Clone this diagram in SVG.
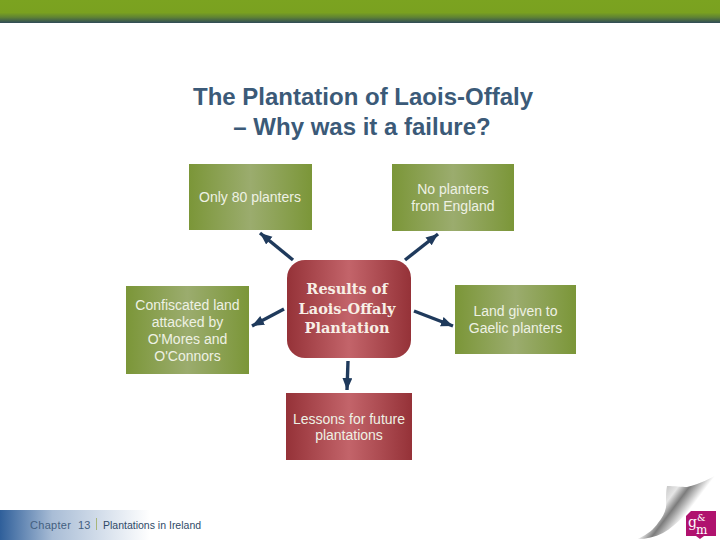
<svg xmlns="http://www.w3.org/2000/svg" width="720" height="540" viewBox="0 0 720 540">
<style>
.g{fill:url(#green)}
.r{fill:url(#red)}
.t{font-family:"Liberation Sans",Arial,sans-serif;font-size:14px;fill:#eef1e4;text-anchor:middle}
.c{stroke:#1f3a5c;stroke-width:3.4;fill:none;marker-end:url(#a)}
.l{font-family:"DejaVu Serif",serif;fill:#fff}
</style>
<defs>
<linearGradient id="bar" x1="0" y1="0" x2="0" y2="1"><stop offset="0" stop-color="#7ba320"/><stop offset=".55" stop-color="#7aa120"/><stop offset=".75" stop-color="#5f8334"/><stop offset="1" stop-color="#2f4a57"/></linearGradient>
<linearGradient id="green"><stop offset="0" stop-color="#7b9638"/><stop offset=".5" stop-color="#9bac6e"/><stop offset="1" stop-color="#7b9638"/></linearGradient>
<linearGradient id="red"><stop offset="0" stop-color="#953238"/><stop offset=".5" stop-color="#c3646a"/><stop offset="1" stop-color="#953238"/></linearGradient>
<linearGradient id="foot"><stop offset="0" stop-color="#2f5f9a"/><stop offset=".35" stop-color="#a9bdd6"/><stop offset="1" stop-color="#fff"/></linearGradient>
<linearGradient id="fold" gradientUnits="userSpaceOnUse" x1="662" y1="490" x2="702" y2="520"><stop offset="0" stop-color="#c4c4c4"/><stop offset=".22" stop-color="#e6e6e6"/><stop offset=".4" stop-color="#7c7c7c"/><stop offset=".52" stop-color="#b4b4b4"/><stop offset=".68" stop-color="#fff"/></linearGradient>
<marker id="a" markerUnits="userSpaceOnUse" markerWidth="14" markerHeight="12" refX="12" refY="5" orient="auto"><path d="M0 0L12 5L0 10Z" fill="#1f3a5c"/></marker>
</defs>
<rect width="720" height="540" fill="#fff"/>
<rect width="720" height="23" fill="url(#bar)"/>
<rect y="510" width="150" height="30" fill="url(#foot)"/>
<g id="title" font-family="Liberation Sans,Arial,sans-serif" font-size="24" font-weight="700" fill="#3b5a78" text-anchor="middle">
<text x="363" y="105">The Plantation of Laois-Offaly</text>
<text x="362" y="135">– Why was it a failure?</text>
</g>
<g id="connectors">
<line class="c" x1="293" y1="260" x2="260" y2="233"/>
<line class="c" x1="405" y1="260" x2="438" y2="234"/>
<line class="c" x1="284" y1="309" x2="252" y2="326"/>
<line class="c" x1="414" y1="311" x2="453" y2="326"/>
<line class="c" x1="348" y1="361" x2="347" y2="390"/>
</g>
<g id="n1"><rect class="g" x="189" y="164" width="123" height="66"/><text class="t" x="250" y="202">Only 80 planters</text></g>
<g id="n2"><rect class="g" x="392" y="164" width="122" height="67"/><text class="t" x="453" y="194">No planters</text><text class="t" x="453" y="211">from England</text></g>
<g id="n3"><rect class="g" x="126" y="286" width="123" height="88"/><text class="t" x="187.500" y="310">Confiscated land</text><text class="t" x="187.500" y="327">attacked by</text><text class="t" x="187.500" y="344">O'Mores and</text><text class="t" x="187.500" y="361">O'Connors</text></g>
<g id="center"><rect class="r" x="287" y="260" width="124" height="98" rx="18"/><g font-family="DejaVu Serif,serif" font-weight="700" font-size="14.500" fill="#f7efe6" text-anchor="middle"><text x="347" y="294">Results of</text><text x="347" y="314">Laois-Offaly</text><text x="347" y="333">Plantation</text></g></g>
<g id="n4"><rect class="g" x="455" y="285" width="121" height="69"/><text class="t" x="515.500" y="316">Land given to</text><text class="t" x="515.500" y="333">Gaelic planters</text></g>
<g id="n5"><rect class="r" x="286" y="393" width="126" height="67"/><text class="t" x="349" y="424">Lessons for future</text><text class="t" x="349" y="440">plantations</text></g>
<g id="footer" font-family="Liberation Sans,Arial,sans-serif">
<text x="30" y="529" font-size="11" letter-spacing=".3" fill="#44607f" style="white-space:pre">Chapter  13</text>
<rect x="96" y="518" width="1" height="12" fill="#a8b67a"/>
<text x="103" y="529" font-size="10.500" fill="#2f4a68">Plantations in Ireland</text>
</g>
<g id="curl">
<path d="M667 486C674 486 682 487 687 487C700 484 712 478 719 473C712 485 707 490 702 495C696 502 691 508 685 515C677 523 670 529 663 533C655 537 646 539 638 539C648 534 654 529 658 523C664 516 667 508 666 502C666 496 666 491 667 486Z" fill="url(#fold)"/>
<g id="logo"><path d="M686 516L691 511H716V536H686Z" fill="#b0126e"/><path d="M696 536h8l-4 3z" fill="#b0126e"/>
<text class="l" x="688" y="527" font-size="14">g</text><text class="l" x="697" y="521" font-size="9.500">&amp;</text><text class="l" x="696" y="534" font-size="12">m</text></g>
</g>
</svg>
